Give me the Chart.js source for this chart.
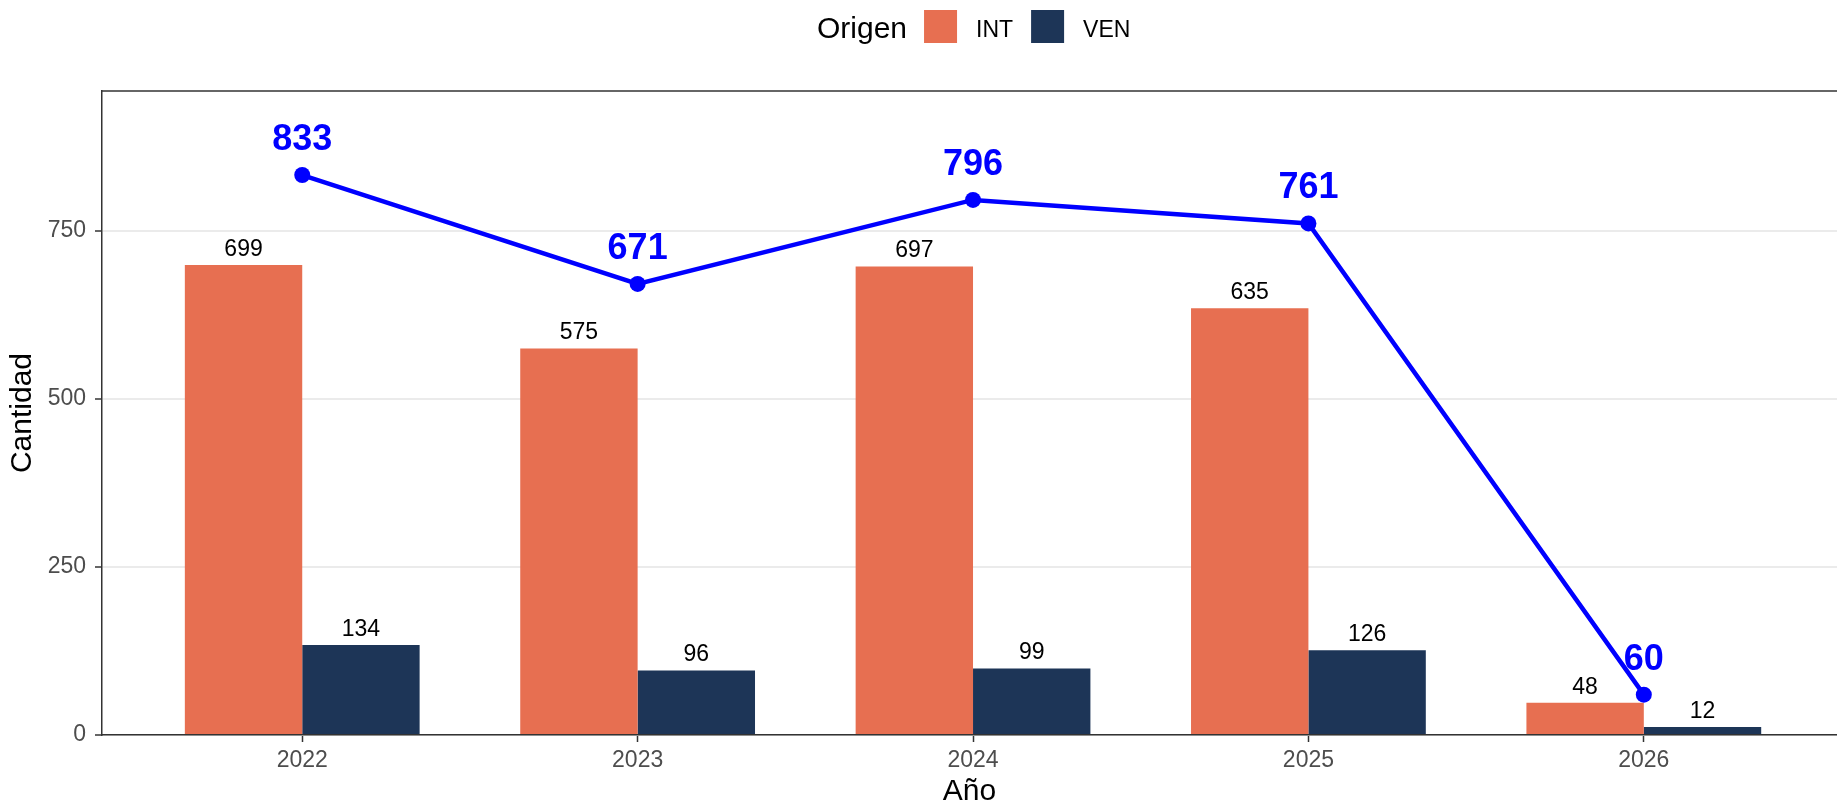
<!DOCTYPE html>
<html>
<head>
<meta charset="utf-8">
<script src="https://cdn.jsdelivr.net/npm/chart.js@4"></script>
<style>
  html, body { margin: 0; padding: 0; background: #fff; overflow: hidden; }
  #wrap { width: 1837px; height: 804px; position: relative; }
</style>
</head>
<body>
<div id="wrap"><canvas id="grafica"></canvas></div>
<script>
// datos
const anios = [2022, 2023, 2024, 2025, 2026];
const serieINT = [699, 575, 697, 635, 48];
const serieVEN = [134, 96, 99, 126, 12];
const totales = [833, 671, 796, 761, 60];
const yTicks = [0, 250, 500, 750];
const nombres = ["INT", "VEN"];
const colores = ["#E76F51", "#1D3557"];

const FUENTE = "'Liberation Sans', Arial, sans-serif";

// etiquetas encima de barras y puntos, borde del panel y leyenda
const etiquetas = {
  id: "etiquetas",
  afterDatasetsDraw(chart) {
    const ctx = chart.ctx;
    const area = chart.chartArea;
    ctx.save();

    // borde superior del panel
    ctx.strokeStyle = "#333333";
    ctx.lineWidth = 1.5;
    ctx.beginPath();
    ctx.moveTo(area.left, area.top);
    ctx.lineTo(area.right, area.top);
    ctx.stroke();

    ctx.textAlign = "center";
    ctx.textBaseline = "alphabetic";
    chart.data.datasets.forEach((ds, i) => {
      const meta = chart.getDatasetMeta(i);
      meta.data.forEach((el, j) => {
        const v = ds.data[j].y;
        if (ds.type === "line") {
          ctx.fillStyle = "#0000FF";
          ctx.font = "bold 36px " + FUENTE;
          ctx.fillText(v, el.x, el.y - 25);
        } else {
          ctx.fillStyle = "#000000";
          ctx.font = "23px " + FUENTE;
          ctx.fillText(v, el.x, el.y - 9);
        }
      });
    });

    // leyenda
    let x = 817;
    const base = 38;
    ctx.textAlign = "left";
    ctx.fillStyle = "#000000";
    ctx.font = "30px " + FUENTE;
    ctx.fillText("Origen", x, base);
    x += ctx.measureText("Origen").width + 17;
    ctx.font = "23px " + FUENTE;
    for (let k = 0; k < nombres.length; k++) {
      ctx.fillStyle = colores[k];
      ctx.fillRect(x, 10, 33, 33);
      x += 33 + 19;
      ctx.fillStyle = "#000000";
      ctx.fillText(nombres[k], x, base - 1);
      x += ctx.measureText(nombres[k]).width + 18;
    }
    ctx.restore();
  }
};

const puntos = (vals) => anios.map((a, i) => ({ x: a, y: vals[i] }));

new Chart(document.querySelector("#grafica"), {
  type: "bar",
  data: {
    datasets: [
      {
        type: "line",
        label: "Total",
        data: puntos(totales),
        borderColor: "#0000FF",
        backgroundColor: "#0000FF",
        borderWidth: 4.5,
        pointRadius: 8,
        pointBorderWidth: 0,
        pointHoverRadius: 8,
        tension: 0,
        order: 0
      },
      {
        label: nombres[0],
        data: puntos(serieINT),
        backgroundColor: colores[0],
        categoryPercentage: 0.7,
        barPercentage: 1.0,
        order: 1
      },
      {
        label: nombres[1],
        data: puntos(serieVEN),
        backgroundColor: colores[1],
        categoryPercentage: 0.7,
        barPercentage: 1.0,
        order: 1
      }
    ]
  },
  options: {
    responsive: true,
    maintainAspectRatio: false,
    animation: false,
    layout: { autoPadding: false, padding: { top: 91, left: 0, right: 0, bottom: 0 } },
    plugins: {
      legend: { display: false },
      tooltip: { enabled: false }
    },
    scales: {
      x: {
        type: "linear",
        min: 2021.403,
        max: 2026.576,
        offset: false,
        afterBuildTicks: (scale) => { scale.ticks = anios.map(v => ({ value: v })); },
        afterFit: (scale) => {
          scale.height = 69;
          scale.paddingLeft = 0;
          scale.paddingRight = 0;
        },
        grid: {
          display: true,
          drawOnChartArea: false,
          offset: false,
          tickLength: 7,
          tickColor: "#333333",
          tickWidth: 1.5
        },
        border: { color: "#333333", width: 1.5 },
        ticks: {
          color: "#4D4D4D",
          font: { family: FUENTE, size: 23 },
          padding: 5,
          maxRotation: 0,
          callback: (v) => String(v)
        },
        title: {
          display: true,
          text: "Año",
          color: "#000000",
          font: { family: FUENTE, size: 30, lineHeight: 0.8 },
          padding: 0
        }
      },
      y: {
        min: 0,
        max: 958,
        afterBuildTicks: (scale) => { scale.ticks = yTicks.map(v => ({ value: v })); },
        afterFit: (scale) => { scale.width = 102; },
        grid: {
          color: "#EBEBEB",
          lineWidth: 2,
          tickLength: 7,
          tickColor: "#333333",
          tickWidth: 1.5
        },
        border: { color: "#333333", width: 1.5 },
        ticks: {
          color: "#4D4D4D",
          font: { family: FUENTE, size: 23 },
          padding: 9
        },
        title: {
          display: true,
          text: "Cantidad",
          color: "#000000",
          font: { family: FUENTE, size: 30 },
          padding: { top: 5, bottom: 0 }
        }
      }
    }
  },
  plugins: [etiquetas]
});
</script>
</body>
</html>
